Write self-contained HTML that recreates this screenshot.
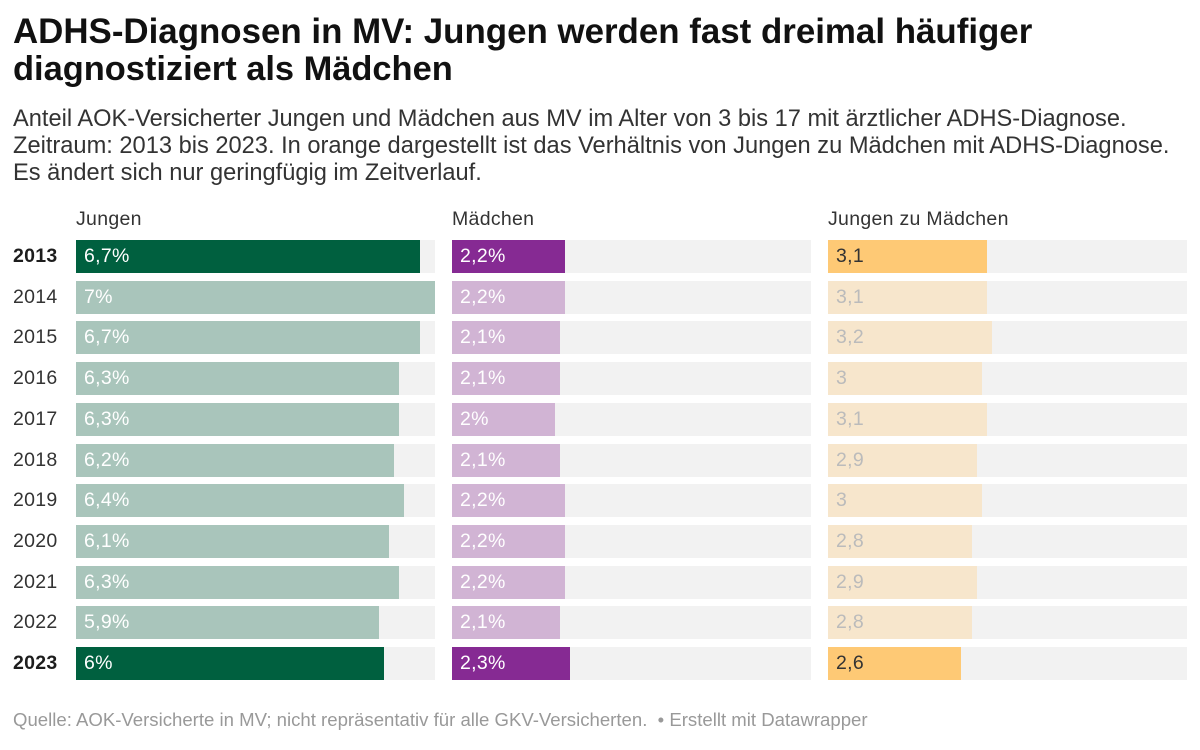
<!DOCTYPE html>
<html><head><meta charset="utf-8"><style>
body{margin:0;width:1200px;height:750px;background:#fff;font-family:"Liberation Sans",sans-serif;color:#1d1d1d;position:relative;overflow:hidden}
.ln{position:absolute;left:13px;white-space:nowrap}
.t{font-size:31px;font-weight:bold;line-height:36px;color:#111}
.s{font-size:20px;line-height:27px;color:#333}
.h{position:absolute;top:208px;font-size:19.5px;letter-spacing:0.3px;color:#333}
.y{position:absolute;left:13px;font-size:19.5px;letter-spacing:0.3px;line-height:33px;color:#333}
.bg{position:absolute;width:359px;height:33px;background:#f2f2f2}
.b{position:absolute;left:0;top:0;height:33px;font-size:19.5px;letter-spacing:0.3px;line-height:33px;padding-left:8px;box-sizing:border-box;color:#fff;white-space:nowrap}
.f{font-size:16px;color:#999;top:709px}
</style></head><body>
<div class="ln t fit" data-w="1020" style="top:14px">ADHS-Diagnosen in MV: Jungen werden fast dreimal häufiger</div>
<div class="ln t fit" data-w="440" style="top:51px">diagnostiziert als Mädchen</div>
<div class="ln s fit" id="s1" data-w="1114" style="top:106px">Anteil AOK-Versicherter Jungen und Mädchen aus MV im Alter von 3 bis 17 mit ärztlicher ADHS-Diagnose.</div>
<div class="ln s fit" data-w="1157" style="top:133px">Zeitraum: 2013 bis 2023. In orange dargestellt ist das Verhältnis von Jungen zu Mädchen mit ADHS-Diagnose.</div>
<div class="ln s" id="s3" style="top:160px">Es ändert sich nur geringfügig im Zeitverlauf.</div>
<div class="h" style="left:76px">Jungen</div>
<div class="h" style="left:452px">Mädchen</div>
<div class="h" style="left:828px">Jungen zu Mädchen</div>
<div id="c"></div>
<div class="ln f fit" data-w="855">Quelle: AOK-Versicherte in MV; nicht repräsentativ für alle GKV-Versicherten. &nbsp;• Erstellt mit Datawrapper</div>
<script>
var d=[[2013,"6,7",6.7,"2,2",2.2,"3,1",3.1],[2014,"7",7,"2,2",2.2,"3,1",3.1],[2015,"6,7",6.7,"2,1",2.1,"3,2",3.2],[2016,"6,3",6.3,"2,1",2.1,"3",3],[2017,"6,3",6.3,"2",2,"3,1",3.1],[2018,"6,2",6.2,"2,1",2.1,"2,9",2.9],[2019,"6,4",6.4,"2,2",2.2,"3",3],[2020,"6,1",6.1,"2,2",2.2,"2,8",2.8],[2021,"6,3",6.3,"2,2",2.2,"2,9",2.9],[2022,"5,9",5.9,"2,1",2.1,"2,8",2.8],[2023,"6",6,"2,3",2.3,"2,6",2.6]];
var h="";
d.forEach(function(r,i){var top=240+i*40.7;var hi=(i==0||i==10);
h+='<div class="y" style="top:'+top+'px;'+(hi?'font-weight:bold;color:#1d1d1d':'')+'">'+r[0]+'</div>';
var cols=[[76,r[1]+'%',r[2],hi?'#00603f':'#a9c5bb','#fff'],[452,r[3]+'%',r[4],hi?'#862a93':'#d1b4d4','#fff'],[828,r[5],r[6],hi?'#fec975':'#f7e6cc',hi?'#333':'#bbb']];
cols.forEach(function(c){h+='<div class="bg" style="left:'+c[0]+'px;top:'+top+'px"><div class="b" style="width:'+(c[2]/7*359)+'px;background:'+c[3]+';color:'+c[4]+'">'+c[1]+'</div></div>';});
});
document.getElementById("c").innerHTML=h;
document.querySelectorAll('.fit').forEach(function(e){var w=e.getBoundingClientRect().width;var fs=parseFloat(getComputedStyle(e).fontSize);e.style.fontSize=(fs*(+e.dataset.w)/w)+'px';});
document.getElementById('s3').style.fontSize=document.getElementById('s1').style.fontSize;
</script>
</body></html>
